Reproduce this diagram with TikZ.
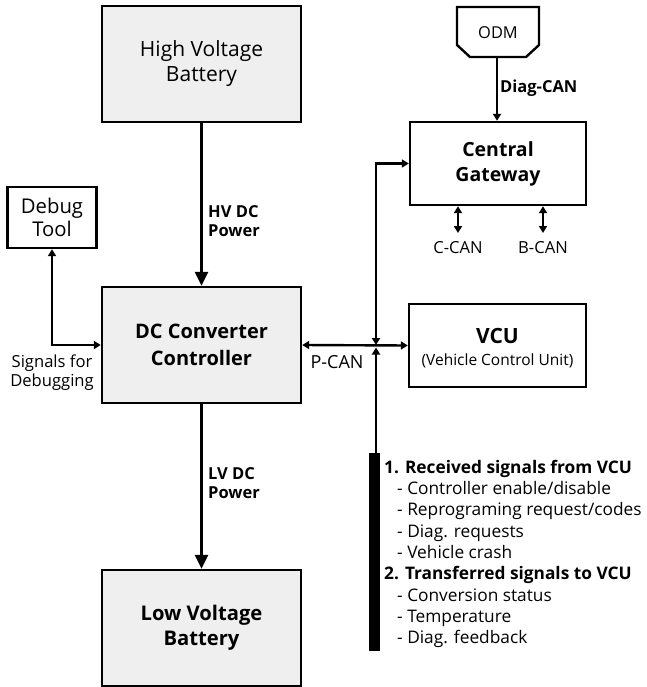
\documentclass[tikz,border=0pt]{standalone}
\usepackage{fontspec}
\setmainfont{Open Sans}
\usetikzlibrary{arrows.meta}
\definecolor{boxgrey}{HTML}{EFEFEF}
\tikzset{
  box/.style={draw, line width=2.4pt, align=center, inner sep=0pt},
  greybox/.style={box, fill=boxgrey},
  bigarrow/.style={line width=2.4pt, -{Triangle[length=14pt,width=13pt]}},
  sarrow/.style={line width=2.4pt, {Triangle[length=7pt,width=8pt]}-{Triangle[length=7pt,width=8pt]}},
  sarrowend/.style={line width=2.4pt, -{Triangle[length=7pt,width=8pt]}},
  lbl/.style={font=\fontsize{16.5}{19}\selectfont\bfseries, align=left, inner sep=0pt},
  rlbl/.style={font=\fontsize{16.6}{19}\selectfont, align=center, inner sep=0pt},
  item/.style={font=\fontsize{17.3}{18}\selectfont, anchor=base west, inner sep=0pt},
  itemb/.style={font=\fontsize{17.3}{18}\selectfont\bfseries, anchor=base west, inner sep=0pt},
}
\begin{document}
\begin{tikzpicture}[x=1pt,y=-1pt]
\useasboundingbox (0,0) rectangle (646,687);
% boxes
\node (hv) [greybox, minimum width=199pt, minimum height=116pt, font=\fontsize{21}{25}\selectfont] at (201.5,64) {High Voltage\\Battery};
\node (dc) [greybox, minimum width=199pt, minimum height=116pt, font=\fontsize{20}{27}\selectfont\bfseries] at (201.5,345) {DC Converter\\Controller};
\node (lv) [greybox, minimum width=199pt, minimum height=116pt, font=\fontsize{20.2}{25}\selectfont\bfseries] at (201.5,628) {Low Voltage\\Battery};
\node (dbg) [box, minimum width=89pt, minimum height=61pt, font=\fontsize{20.3}{23}\selectfont] at (52,217.5) {Debug\\Tool};
\node (cg) [box, minimum width=176pt, minimum height=83pt, font=\fontsize{19.5}{25}\selectfont\bfseries] at (498,163.5) {Central\\Gateway};
\node (vcu) [box, minimum width=177pt, minimum height=83pt] at (497.5,345.5) {};
\node (vcut) [font=\fontsize{21}{24}\selectfont\bfseries, inner sep=0pt] at (497.5,336) {VCU};
\node (vcus) [font=\fontsize{15.5}{18}\selectfont, inner sep=0pt] at (497.5,361) {(Vehicle Control Unit)};
% ODM
\draw[line width=2.4pt] (457,7) -- (539,7) -- (539,45) -- (526,57) -- (470,57) -- (457,45) -- cycle;
\node (odm) [font=\fontsize{16.4}{18}\selectfont, inner sep=0pt] at (498,33) {ODM};
\coordinate (odmb) at (497,57);
% power arrows
\draw[bigarrow] (hv.south) -- (dc.north);
\draw[bigarrow] (dc.south) -- (lv.north);
\node (hvl) [lbl, anchor=west] at (208,221) {HV DC\\Power};
\node (lvl) [lbl, anchor=west] at (208,483) {LV DC\\Power};
% debug
\draw[sarrow] (dbg.south) |- (dc.west);
\node (sigl) [rlbl] at (52,373) {Signals for\\Debugging};
% P-CAN
\draw[sarrow] (dc.east) -- (vcu.west);
\node (pcan) [rlbl, font=\fontsize{18}{20}\selectfont] at (337,362) {P-CAN};
\coordinate (jn) at (376,345);
\coordinate (jn2) at (376,347.5);
\draw[sarrow] (jn) |- (cg.west);
% Diag-CAN
\draw[sarrowend] (odmb) -- (cg.north -| odmb);
\node (diag) [lbl, anchor=west] at (500,88) {Diag-CAN};
% C-CAN, B-CAN
\coordinate (ccan) at (458,233);
\coordinate (bcan) at (543,233);
\draw[sarrow] (cg.south -| ccan) -- (ccan);
\draw[sarrow] (cg.south -| bcan) -- (bcan);
\node (ccl) [rlbl] at (458,248) {C-CAN};
\node (bcl) [rlbl] at (543,248) {B-CAN};
% bar
\node (bar) [fill=black, minimum width=11pt, minimum height=198pt, inner sep=0pt] at (374.5,552) {};
\draw[sarrowend] (bar.north -| jn2) -- (jn2);
% text list
\node (t1) [itemb] at (384,473) {1. Received signals from VCU};
\node (t2) [item] at (397,494.3) {- Controller enable/disable};
\node (t3) [item] at (397,515.6) {- Reprograming request/codes};
\node (t4) [item] at (397,537) {- Diag. requests};
\node (t5) [item] at (397,558.2) {- Vehicle crash};
\node (t6) [itemb] at (384,579.5) {2. Transferred signals to VCU};
\node (t7) [item] at (397,601) {- Conversion status};
\node (t8) [item] at (397,622.2) {- Temperature};
\node (t9) [item] at (397,643.5) {- Diag. feedback};
\end{tikzpicture}
\end{document}
